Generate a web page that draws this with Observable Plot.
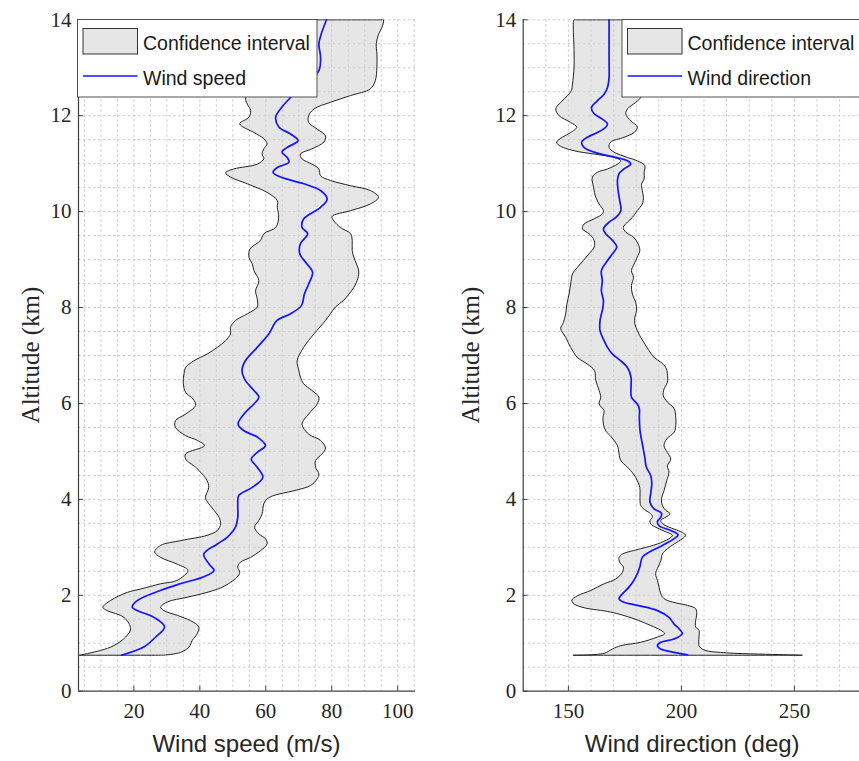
<!DOCTYPE html>
<html>
<head>
<meta charset="utf-8">
<script src="https://cdn.jsdelivr.net/npm/d3@7"></script>
<script src="https://cdn.jsdelivr.net/npm/@observablehq/plot@0.6"></script>
<style>
  html, body { margin: 0; padding: 0; background: #fff; }
  #wrap { position: relative; width: 859px; height: 761px; overflow: hidden; background: #fff; }
  .panel { position: absolute; top: 0; width: 430px; height: 761px; }
  .panel svg { max-width: none !important; }
  #overlay { position: absolute; left: 0; top: 0; }
</style>
</head>
<body>
<div id="wrap">
  <div class="panel" id="p1" style="left:0px"></div>
  <div class="panel" id="p2" style="left:440px"></div>
  <svg id="overlay" width="859" height="761"></svg>
</div>
<script>
// ---------- DATA: [altitude (km), value] ----------
const speedMean = [[0.75,16.2],[0.92,23],[1.13,26.6],[1.34,29.3],[1.54,26.1],[1.75,19.5],[1.89,21],[2.10,28],[2.24,34],[2.38,41],[2.52,44.3],[2.65,42.8],[2.86,41.2],[3.07,45.3],[3.21,48.3],[3.42,50.8],[3.63,51.5],[3.90,51.5],[4.08,51.8],[4.25,55.9],[4.46,59.1],[4.67,57.4],[4.84,55.6],[4.98,57.4],[5.12,59.9],[5.30,57.4],[5.43,53.4],[5.57,51.6],[5.78,53.4],[5.99,56.4],[6.13,57.9],[6.27,56.4],[6.48,53.8],[6.69,52.8],[6.89,53.8],[7.17,57.4],[7.45,60.9],[7.73,63.4],[7.87,67.5],[8.04,70.8],[8.28,71.7],[8.49,73],[8.74,74.2],[8.91,72.5],[9.12,70.3],[9.33,70.5],[9.54,72.7],[9.67,71],[9.85,71.5],[10.09,76.6],[10.26,78.6],[10.44,76.6],[10.58,71.5],[10.72,64.5],[10.82,62.2],[10.92,63.5],[11.03,67],[11.13,66.5],[11.24,64.9],[11.34,66.5],[11.48,69.8],[11.62,67.5],[11.76,64],[11.97,63],[12.18,64.9],[12.38,67.5],[12.65,72],[12.94,76.1],[13.22,76.6],[13.5,76.1],[13.7,76.8],[14,78.4]];

const speedLower = [[0.75,3.5],[0.85,9.9],[0.95,13.9],[1.13,17.5],[1.30,19],[1.54,17],[1.68,11.9],[1.75,10.6],[1.89,12.9],[2.06,18],[2.13,22],[2.24,28.1],[2.31,33.1],[2.52,36.4],[2.65,33.1],[2.79,28.1],[2.90,26.3],[3.04,28.1],[3.14,34.2],[3.25,42.2],[3.35,45.3],[3.49,46.3],[3.63,45.8],[3.77,44.3],[3.91,42.7],[4.04,41.7],[4.25,42.7],[4.39,42.2],[4.53,40.7],[4.67,38.7],[4.84,35.7],[4.95,35.7],[5.12,41.4],[5.23,39.2],[5.33,35.7],[5.50,32.6],[5.64,32.6],[5.78,35.7],[5.96,38.7],[6.09,38],[6.23,35.7],[6.41,35],[6.62,35.2],[6.75,35.7],[6.89,38.2],[7.03,42.2],[7.17,45.3],[7.31,47.8],[7.45,49.3],[7.59,49.3],[7.73,50.8],[7.87,54.4],[8.01,57.4],[8.18,57.4],[8.35,56.9],[8.56,57.9],[8.77,56.4],[8.91,55.9],[9.05,54.9],[9.22,55.2],[9.40,58.4],[9.54,59.4],[9.67,63],[9.88,63.9],[10.09,63.5],[10.23,63.5],[10.40,60.4],[10.58,54.4],[10.72,49.3],[10.81,47.8],[10.89,50.3],[10.99,57.4],[11.10,59.4],[11.20,58.9],[11.31,59.4],[11.41,60.4],[11.52,59.4],[11.65,56.4],[11.83,52.1],[11.97,54.9],[12.11,55.4],[12.24,54.4],[12.38,53.8],[12.7,55],[13.2,57],[13.7,58],[14,59]];

const speedUpper = [[0.75,28.6],[0.81,34.2],[0.92,36.7],[1.06,37.7],[1.20,39.2],[1.34,39.7],[1.47,37.2],[1.58,33.2],[1.68,29.1],[1.75,28.1],[1.86,30.1],[1.96,36.2],[2.06,42.2],[2.17,46.8],[2.27,49.3],[2.38,51.3],[2.48,52.1],[2.59,51.5],[2.69,52.3],[2.79,55.4],[2.93,58.4],[3.07,60.4],[3.18,59.9],[3.28,57.9],[3.42,56.6],[3.56,57.9],[3.70,58.9],[3.91,59.4],[4.01,60.4],[4.08,62.4],[4.18,68.5],[4.29,73.6],[4.43,75.6],[4.53,76.1],[4.67,75.1],[4.81,75.1],[4.95,77.1],[5.07,78.1],[5.23,76.6],[5.36,73],[5.57,71],[5.78,73],[5.99,75.6],[6.13,76.1],[6.27,74],[6.41,71.5],[6.55,70.5],[6.69,70],[6.89,69.5],[7.17,71.5],[7.45,74.6],[7.73,78.1],[7.87,79.6],[8.01,81.1],[8.15,83.6],[8.28,85.2],[8.42,86.7],[8.56,87.7],[8.74,88.2],[8.91,87.5],[9.05,86.7],[9.19,86.2],[9.40,86.2],[9.54,85.7],[9.67,82.6],[9.81,80.6],[9.90,80.1],[10.02,85.7],[10.16,91.7],[10.30,94.2],[10.44,91.7],[10.54,85.7],[10.65,79.6],[10.75,76.6],[10.89,76.1],[10.99,74],[11.10,71],[11.20,70.5],[11.31,74],[11.45,77.6],[11.58,78.1],[11.72,75.6],[11.86,73],[12.00,73],[12.14,74.6],[12.28,79.6],[12.42,85.7],[12.56,91.7],[12.73,93.2],[13.01,93.7],[13.29,93.7],[13.50,93.5],[13.70,94.2],[13.84,95.2],[14,95.7]];

const dirMean = [[0.76,202.7],[0.81,196.8],[0.88,190.9],[0.95,189.4],[1.02,190.9],[1.09,196.8],[1.20,200.4],[1.30,199],[1.40,196.8],[1.54,194.5],[1.68,189.4],[1.79,180.5],[1.86,174.3],[1.93,172.4],[2.03,173.9],[2.17,176.8],[2.38,179.8],[2.59,181.6],[2.79,182.7],[2.90,185.7],[3.04,191.6],[3.18,196.8],[3.26,198.5],[3.35,195.3],[3.45,190.1],[3.54,189.4],[3.63,190.9],[3.71,191.2],[3.80,187.9],[3.94,186.1],[4.12,186.4],[4.32,186.9],[4.50,186.4],[4.67,184.5],[4.88,183.8],[5.16,182.7],[5.43,181.7],[5.71,181.4],[5.89,181.4],[5.99,180.5],[6.13,177.9],[6.34,177.7],[6.55,177.7],[6.75,176.1],[6.89,173.2],[7.03,169.5],[7.17,167.3],[7.31,165.8],[7.52,164],[7.73,164],[7.94,165],[8.14,165.5],[8.35,164.6],[8.56,165],[8.77,164.6],[8.98,167.3],[9.12,169.5],[9.26,171.4],[9.40,169.5],[9.54,166.5],[9.64,165.5],[9.78,168],[9.88,171],[10.02,173.2],[10.23,172.7],[10.44,172],[10.65,171.7],[10.79,172.4],[10.89,174.6],[10.99,177.6],[11.06,176.1],[11.13,170.9],[11.24,161.4],[11.34,156.9],[11.45,155.9],[11.55,158.4],[11.65,162.8],[11.76,166.5],[11.83,167.3],[11.93,165],[12.04,161.4],[12.17,160.2],[12.31,162.8],[12.45,165.8],[12.59,167.3],[12.80,168],[13.15,168],[13.56,168],[14,168]];

const dirLower = [[0.75,152.2],[0.79,165.8],[0.88,169.5],[0.95,173.2],[1.02,182],[1.13,189.4],[1.20,192.6],[1.27,190.9],[1.37,186.4],[1.51,179.1],[1.65,168.7],[1.74,157],[1.82,152.5],[1.90,151.5],[1.99,154],[2.10,159.9],[2.24,165.8],[2.34,171],[2.48,173.9],[2.59,174.3],[2.69,172.7],[2.79,172.4],[2.86,173.9],[2.97,182],[3.07,189.4],[3.18,194.5],[3.25,196],[3.34,192.3],[3.42,188.6],[3.49,186.4],[3.56,186.1],[3.63,187.2],[3.70,186.4],[3.77,184.2],[3.87,182],[3.97,181.7],[4.12,181.7],[4.25,181.6],[4.39,180.5],[4.53,178.8],[4.67,176.1],[4.81,173.2],[4.95,172.4],[5.12,171.7],[5.30,169],[5.43,166.5],[5.57,165.5],[5.71,165.3],[5.85,165.8],[5.99,163.6],[6.13,164.3],[6.27,163.6],[6.48,162.1],[6.69,161.5],[6.82,158.4],[6.96,154],[7.17,151],[7.38,148.8],[7.56,146.6],[7.69,147.8],[7.87,148.8],[8.07,149.3],[8.28,150.3],[8.49,151],[8.70,151.8],[8.84,154],[8.98,156.6],[9.12,159.1],[9.26,161.4],[9.40,161.4],[9.54,159.1],[9.64,156.2],[9.74,156.9],[9.85,161.4],[9.95,165],[10.02,165.5],[10.16,163.6],[10.30,162.1],[10.51,161.1],[10.72,160.6],[10.82,162.8],[10.89,167.3],[10.99,171.7],[11.06,173.2],[11.13,170.2],[11.20,161.4],[11.27,152.5],[11.38,145.9],[11.45,144.8],[11.55,147.3],[11.65,151],[11.76,153.7],[11.86,151],[12.00,145.9],[12.14,144.4],[12.28,146.6],[12.42,149.6],[12.52,151.3],[12.66,151.8],[13.01,152.5],[13.36,152.5],[14,152.5]];

const dirUpper = [[0.75,253.5],[0.76,246],[0.775,234],[0.80,220],[0.86,210],[0.95,207.8],[1.13,207.8],[1.27,207.8],[1.34,206.3],[1.47,206.3],[1.61,206.8],[1.72,206.3],[1.79,202.7],[1.86,196],[1.93,192.3],[2.03,190.9],[2.17,190.1],[2.31,189.4],[2.45,188.6],[2.59,189.7],[2.72,190.9],[2.86,191.6],[2.97,193.8],[3.07,196.8],[3.18,200.4],[3.25,201.9],[3.31,200.4],[3.38,196.8],[3.47,192.3],[3.56,190.9],[3.63,193.1],[3.70,195],[3.77,193.1],[3.87,191.6],[4.01,191.2],[4.18,192.3],[4.39,193.5],[4.57,194.5],[4.70,193.8],[4.84,195.3],[4.98,193.8],[5.12,192.3],[5.26,193.5],[5.40,196.8],[5.54,197.5],[5.71,197.5],[5.89,196.8],[6.03,193.8],[6.16,192],[6.30,192.3],[6.44,193.8],[6.62,193.8],[6.75,193.1],[6.86,190.9],[6.96,187.9],[7.10,185.7],[7.24,183.8],[7.38,182],[7.52,180.5],[7.66,179.4],[7.80,179.4],[7.94,180.2],[8.11,179.8],[8.28,178.3],[8.46,177.9],[8.63,178.8],[8.77,177.9],[8.91,179.1],[9.05,180.5],[9.19,181.6],[9.33,180.8],[9.47,178.8],[9.57,175.4],[9.67,174.3],[9.78,176.1],[9.88,178.3],[10.02,180.5],[10.16,182.7],[10.30,183.2],[10.44,182.7],[10.58,182.4],[10.68,183.5],[10.82,183.5],[10.96,183.8],[11.06,180.5],[11.13,176.1],[11.24,170.2],[11.34,168],[11.45,168.7],[11.55,174.6],[11.65,179.1],[11.77,180.5],[11.89,177.6],[12.04,175.4],[12.14,176.1],[12.28,179.8],[12.38,182],[12.6,183],[13.0,183.5],[14,183.5]];

const altTicks = [0, 2, 4, 6, 8, 10, 12, 14];
const speedTicks = [20, 40, 60, 80, 100];
const dirTicks = [150, 200, 250];
const speedDomain = [3.2, 105.4];
const dirDomain = [130, 280];
const altDomain = [0, 14];
const speedGrid = d3.range(5, 106, 5);
const dirGrid = d3.range(140, 281, 10);
const altGrid = d3.range(0.5, 14.01, 0.5);

const labels = {
  xSpeed: "Wind speed (m/s)",
  xDir: "Wind direction (deg)",
  y: "Altitude (km)",
  band: "Confidence interval",
  speed: "Wind speed",
  dir: "Wind direction"
};

// ---------- helpers ----------
const pts = arr => arr.map(([a, v]) => ({alt: a, v}));
// closed outline: lower bound upward, flat top edge, upper bound downward, flat bottom edge
function bandPolygon(lo, hi) {
  const L = pts(lo), U = pts(hi).reverse();
  const top = L[L.length - 1], topR = U[0];
  const bot = L[0], botR = U[U.length - 1];
  const mid = (a, b, t) => ({alt: a.alt, v: a.v + (b.v - a.v) * t});
  const p = [...L, mid(top, topR, 0.02), mid(top, topR, 0.98), ...U,
             mid(botR, bot, 0.02), mid(botR, bot, 0.98), L[0]];
  return p;
}

const AXIS = "#404040";
const GRID = "#cdcdcd";
const H = 761, MT = 19.3, MB = 70.3;
const plotH = H - MT - MB;

function panel({width, ml, mr, xDomain, xTicks, xGrid, lo, hi, mean}) {
  const plotW = width - ml - mr;
  const poly = bandPolygon(lo, hi);
  return Plot.plot({
    width, height: H,
    marginLeft: ml, marginRight: mr, marginTop: MT, marginBottom: MB,
    x: {domain: xDomain, ticks: xTicks, tickSize: 0, tickPadding: 12, label: null},
    y: {domain: altDomain, ticks: altTicks, tickSize: 0, tickPadding: 7, label: null},
    style: {
      fontFamily: "'Liberation Serif', 'DejaVu Serif', serif",
      fontSize: "21px",
      color: "#262626",
      background: "transparent",
      overflow: "visible",
      maxWidth: "none"
    },
    marks: [
      Plot.line(poly, {x: "v", y: "alt", fill: "#e6e6e6", stroke: "none", curve: "catmull-rom", clip: true}),
      Plot.ruleX(xGrid, {stroke: GRID, strokeWidth: 1, strokeDasharray: "2.5,2.5"}),
      Plot.ruleY(altGrid, {stroke: GRID, strokeWidth: 1, strokeDasharray: "2.5,2.5"}),
      Plot.line(poly, {x: "v", y: "alt", fill: "none", stroke: "#222", strokeWidth: 1, curve: "catmull-rom", clip: true}),
      Plot.line(pts(mean), {x: "v", y: "alt", stroke: "#1414ff", strokeWidth: 1.7, curve: "catmull-rom"}),
      Plot.ruleY([altDomain[0]], {stroke: AXIS, strokeWidth: 1.2}),
      Plot.ruleX([xDomain[0]], {stroke: AXIS, strokeWidth: 1.2}),
      Plot.tickX(xTicks, {x: d => d, stroke: AXIS, insetTop: plotH - 5}),
      Plot.tickY(altTicks, {y: d => d, stroke: AXIS, insetRight: plotW - 5})
    ]
  });
}

document.getElementById("p1").appendChild(panel({
  width: 430, ml: 78, mr: 15, xDomain: speedDomain, xTicks: speedTicks, xGrid: speedGrid,
  lo: speedLower, hi: speedUpper, mean: speedMean
}));
document.getElementById("p2").appendChild(panel({
  width: 430, ml: 82.7, mr: 8.3, xDomain: dirDomain, xTicks: dirTicks, xGrid: dirGrid,
  lo: dirLower, hi: dirUpper, mean: dirMean
}));

// ---------- overlay: legends and axis titles ----------
const ov = d3.select("#overlay");
const sans = "'Liberation Sans', Arial, Helvetica, sans-serif";
const serif = "'Liberation Serif', 'DejaVu Serif', serif";

function legend(x0, lineLabel) {
  const g = ov.append("g").attr("transform", `translate(${x0},19.5)`);
  g.append("rect").attr("x", 0).attr("y", 0).attr("width", 239.5).attr("height", 77.5)
    .attr("fill", "#fff").attr("stroke", "#505050").attr("stroke-width", 1);
  g.append("rect").attr("x", 5.5).attr("y", 9).attr("width", 54.5).attr("height", 25.5)
    .attr("fill", "#e6e6e6").attr("stroke", "#333").attr("stroke-width", 1);
  g.append("line").attr("x1", 5.5).attr("x2", 60).attr("y1", 56.5).attr("y2", 56.5)
    .attr("stroke", "#1414ff").attr("stroke-width", 1.7);
  g.append("text").attr("x", 65.5).attr("y", 30).text(labels.band)
    .attr("font-family", sans).attr("font-size", 19.5).attr("fill", "#1a1a1a");
  g.append("text").attr("x", 65.5).attr("y", 65.5).text(lineLabel)
    .attr("font-family", sans).attr("font-size", 19.5).attr("fill", "#1a1a1a");
}
legend(77.5, labels.speed);
legend(622, labels.dir);

ov.append("text").attr("x", 246.5).attr("y", 751.5).attr("text-anchor", "middle")
  .attr("font-family", sans).attr("font-size", 24).attr("fill", "#262626").text(labels.xSpeed);
ov.append("text").attr("x", 692.2).attr("y", 751.5).attr("text-anchor", "middle")
  .attr("font-family", sans).attr("font-size", 24).attr("fill", "#262626").text(labels.xDir);

[38.5, 478.5].forEach(x => {
  ov.append("text").attr("transform", `translate(${x},355) rotate(-90)`).attr("text-anchor", "middle")
    .attr("font-family", serif).attr("font-size", 25).attr("fill", "#262626").text(labels.y);
});
</script>
</body>
</html>
